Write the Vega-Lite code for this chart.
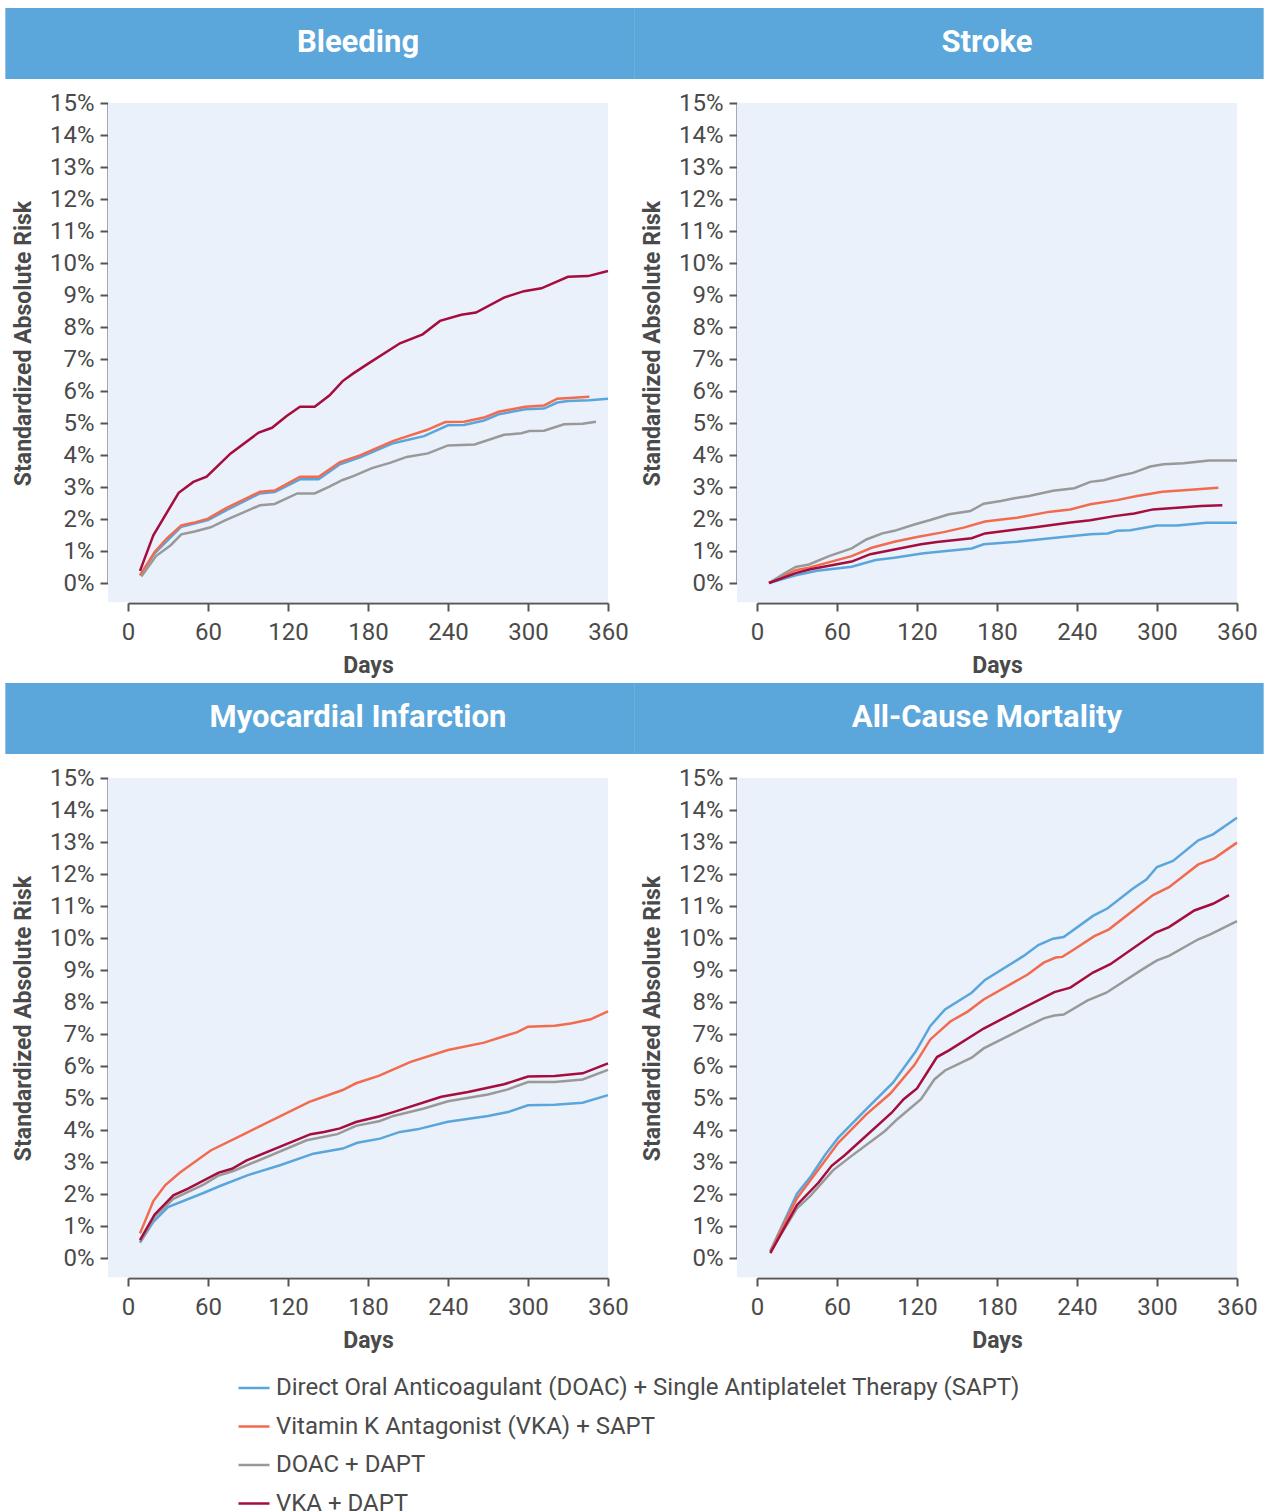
{
"$schema":"https://vega.github.io/schema/vega-lite/v6.json",
"padding":{"left":5,"top":7,"right":5,"bottom":5},
"bounds":"flush",
"config":{"font":"Roboto","view":{"stroke":null},
"axis":{"domainColor":"#555555","domainWidth":2,"tickColor":"#555555","tickWidth":2,"tickSize":8,"labelFont":"Roboto","labelFontSize":24,"labelColor":"#4a4a4a","titleFont":"Roboto","titleFontSize":23,"titleFontWeight":"bold","titleColor":"#4a4a4a","grid":false,"labelOverlap":false},
"axisX":{"offset":20,"labelPadding":9,"titlePadding":10,"labelFlush":false},
"axisY":{"offset":20,"labelPadding":6,"titlePadding":14,"labelFlush":false},
"legend":{"labelFont":"Roboto","labelFontSize":24,"labelColor":"#4a4a4a","labelLimit":0}},
"data":{"values":[
{"panel":"Bleeding","series":"DS","day":9,"risk":0.24},{"panel":"Bleeding","series":"DS","day":20,"risk":0.93},{"panel":"Bleeding","series":"DS","day":40,"risk":1.76},{"panel":"Bleeding","series":"DS","day":60,"risk":1.97},{"panel":"Bleeding","series":"DS","day":75,"risk":2.30},{"panel":"Bleeding","series":"DS","day":99,"risk":2.80},{"panel":"Bleeding","series":"DS","day":110,"risk":2.84},{"panel":"Bleeding","series":"DS","day":129,"risk":3.24},{"panel":"Bleeding","series":"DS","day":143,"risk":3.24},{"panel":"Bleeding","series":"DS","day":159,"risk":3.71},{"panel":"Bleeding","series":"DS","day":174,"risk":3.93},{"panel":"Bleeding","series":"DS","day":199,"risk":4.37},{"panel":"Bleeding","series":"DS","day":222,"risk":4.59},{"panel":"Bleeding","series":"DS","day":240,"risk":4.93},{"panel":"Bleeding","series":"DS","day":252,"risk":4.94},{"panel":"Bleeding","series":"DS","day":267,"risk":5.08},{"panel":"Bleeding","series":"DS","day":278,"risk":5.27},{"panel":"Bleeding","series":"DS","day":298,"risk":5.43},{"panel":"Bleeding","series":"DS","day":312,"risk":5.45},{"panel":"Bleeding","series":"DS","day":322,"risk":5.64},{"panel":"Bleeding","series":"DS","day":330,"risk":5.69},{"panel":"Bleeding","series":"DS","day":346,"risk":5.71},{"panel":"Bleeding","series":"DS","day":360,"risk":5.76},
{"panel":"Bleeding","series":"VS","day":9,"risk":0.24},{"panel":"Bleeding","series":"VS","day":20,"risk":0.97},{"panel":"Bleeding","series":"VS","day":29,"risk":1.39},{"panel":"Bleeding","series":"VS","day":40,"risk":1.80},{"panel":"Bleeding","series":"VS","day":49,"risk":1.88},{"panel":"Bleeding","series":"VS","day":60,"risk":2.01},{"panel":"Bleeding","series":"VS","day":74,"risk":2.35},{"panel":"Bleeding","series":"VS","day":99,"risk":2.85},{"panel":"Bleeding","series":"VS","day":110,"risk":2.89},{"panel":"Bleeding","series":"VS","day":129,"risk":3.32},{"panel":"Bleeding","series":"VS","day":143,"risk":3.32},{"panel":"Bleeding","series":"VS","day":159,"risk":3.78},{"panel":"Bleeding","series":"VS","day":174,"risk":3.99},{"panel":"Bleeding","series":"VS","day":199,"risk":4.44},{"panel":"Bleeding","series":"VS","day":224,"risk":4.78},{"panel":"Bleeding","series":"VS","day":238,"risk":5.03},{"panel":"Bleeding","series":"VS","day":252,"risk":5.04},{"panel":"Bleeding","series":"VS","day":267,"risk":5.17},{"panel":"Bleeding","series":"VS","day":278,"risk":5.35},{"panel":"Bleeding","series":"VS","day":298,"risk":5.51},{"panel":"Bleeding","series":"VS","day":312,"risk":5.55},{"panel":"Bleeding","series":"VS","day":322,"risk":5.76},{"panel":"Bleeding","series":"VS","day":346,"risk":5.82},
{"panel":"Bleeding","series":"DD","day":10,"risk":0.2},{"panel":"Bleeding","series":"DD","day":21,"risk":0.84},{"panel":"Bleeding","series":"DD","day":32,"risk":1.18},{"panel":"Bleeding","series":"DD","day":40,"risk":1.52},{"panel":"Bleeding","series":"DD","day":50,"risk":1.61},{"panel":"Bleeding","series":"DD","day":62,"risk":1.74},{"panel":"Bleeding","series":"DD","day":72,"risk":1.94},{"panel":"Bleeding","series":"DD","day":99,"risk":2.43},{"panel":"Bleeding","series":"DD","day":110,"risk":2.47},{"panel":"Bleeding","series":"DD","day":127,"risk":2.80},{"panel":"Bleeding","series":"DD","day":140,"risk":2.80},{"panel":"Bleeding","series":"DD","day":151,"risk":3.01},{"panel":"Bleeding","series":"DD","day":161,"risk":3.22},{"panel":"Bleeding","series":"DD","day":169,"risk":3.34},{"panel":"Bleeding","series":"DD","day":183,"risk":3.59},{"panel":"Bleeding","series":"DD","day":197,"risk":3.76},{"panel":"Bleeding","series":"DD","day":209,"risk":3.94},{"panel":"Bleeding","series":"DD","day":225,"risk":4.05},{"panel":"Bleeding","series":"DD","day":240,"risk":4.30},{"panel":"Bleeding","series":"DD","day":260,"risk":4.33},{"panel":"Bleeding","series":"DD","day":282,"risk":4.63},{"panel":"Bleeding","series":"DD","day":295,"risk":4.68},{"panel":"Bleeding","series":"DD","day":301,"risk":4.75},{"panel":"Bleeding","series":"DD","day":312,"risk":4.76},{"panel":"Bleeding","series":"DD","day":327,"risk":4.96},{"panel":"Bleeding","series":"DD","day":341,"risk":4.98},{"panel":"Bleeding","series":"DD","day":351,"risk":5.04},
{"panel":"Bleeding","series":"VD","day":9,"risk":0.38},{"panel":"Bleeding","series":"VD","day":19,"risk":1.49},{"panel":"Bleeding","series":"VD","day":38,"risk":2.82},{"panel":"Bleeding","series":"VD","day":49,"risk":3.16},{"panel":"Bleeding","series":"VD","day":59,"risk":3.32},{"panel":"Bleeding","series":"VD","day":77,"risk":4.05},{"panel":"Bleeding","series":"VD","day":98,"risk":4.70},{"panel":"Bleeding","series":"VD","day":108,"risk":4.85},{"panel":"Bleeding","series":"VD","day":119,"risk":5.22},{"panel":"Bleeding","series":"VD","day":129,"risk":5.51},{"panel":"Bleeding","series":"VD","day":140,"risk":5.51},{"panel":"Bleeding","series":"VD","day":151,"risk":5.86},{"panel":"Bleeding","series":"VD","day":161,"risk":6.31},{"panel":"Bleeding","series":"VD","day":169,"risk":6.55},{"panel":"Bleeding","series":"VD","day":181,"risk":6.88},{"panel":"Bleeding","series":"VD","day":204,"risk":7.49},{"panel":"Bleeding","series":"VD","day":221,"risk":7.77},{"panel":"Bleeding","series":"VD","day":234,"risk":8.19},{"panel":"Bleeding","series":"VD","day":250,"risk":8.38},{"panel":"Bleeding","series":"VD","day":261,"risk":8.45},{"panel":"Bleeding","series":"VD","day":282,"risk":8.92},{"panel":"Bleeding","series":"VD","day":297,"risk":9.12},{"panel":"Bleeding","series":"VD","day":310,"risk":9.21},{"panel":"Bleeding","series":"VD","day":330,"risk":9.57},{"panel":"Bleeding","series":"VD","day":345,"risk":9.59},{"panel":"Bleeding","series":"VD","day":360,"risk":9.75},
{"panel":"Stroke","series":"DS","day":9,"risk":0},{"panel":"Stroke","series":"DS","day":29,"risk":0.24},{"panel":"Stroke","series":"DS","day":45,"risk":0.38},{"panel":"Stroke","series":"DS","day":71,"risk":0.51},{"panel":"Stroke","series":"DS","day":89,"risk":0.72},{"panel":"Stroke","series":"DS","day":103,"risk":0.79},{"panel":"Stroke","series":"DS","day":125,"risk":0.93},{"panel":"Stroke","series":"DS","day":161,"risk":1.08},{"panel":"Stroke","series":"DS","day":170,"risk":1.21},{"panel":"Stroke","series":"DS","day":195,"risk":1.29},{"panel":"Stroke","series":"DS","day":220,"risk":1.40},{"panel":"Stroke","series":"DS","day":250,"risk":1.52},{"panel":"Stroke","series":"DS","day":263,"risk":1.55},{"panel":"Stroke","series":"DS","day":270,"risk":1.63},{"panel":"Stroke","series":"DS","day":280,"risk":1.65},{"panel":"Stroke","series":"DS","day":300,"risk":1.80},{"panel":"Stroke","series":"DS","day":315,"risk":1.80},{"panel":"Stroke","series":"DS","day":337,"risk":1.88},{"panel":"Stroke","series":"DS","day":360,"risk":1.88},
{"panel":"Stroke","series":"VS","day":9,"risk":0},{"panel":"Stroke","series":"VS","day":29,"risk":0.40},{"panel":"Stroke","series":"VS","day":39,"risk":0.48},{"panel":"Stroke","series":"VS","day":71,"risk":0.84},{"panel":"Stroke","series":"VS","day":86,"risk":1.10},{"panel":"Stroke","series":"VS","day":103,"risk":1.29},{"panel":"Stroke","series":"VS","day":120,"risk":1.44},{"panel":"Stroke","series":"VS","day":140,"risk":1.59},{"panel":"Stroke","series":"VS","day":155,"risk":1.73},{"panel":"Stroke","series":"VS","day":171,"risk":1.92},{"panel":"Stroke","series":"VS","day":185,"risk":1.99},{"panel":"Stroke","series":"VS","day":195,"risk":2.04},{"panel":"Stroke","series":"VS","day":220,"risk":2.23},{"panel":"Stroke","series":"VS","day":235,"risk":2.30},{"panel":"Stroke","series":"VS","day":250,"risk":2.46},{"panel":"Stroke","series":"VS","day":270,"risk":2.59},{"panel":"Stroke","series":"VS","day":285,"risk":2.72},{"panel":"Stroke","series":"VS","day":304,"risk":2.85},{"panel":"Stroke","series":"VS","day":320,"risk":2.90},{"panel":"Stroke","series":"VS","day":346,"risk":2.98},
{"panel":"Stroke","series":"DD","day":9,"risk":0},{"panel":"Stroke","series":"DD","day":20,"risk":0.29},{"panel":"Stroke","series":"DD","day":29,"risk":0.50},{"panel":"Stroke","series":"DD","day":39,"risk":0.58},{"panel":"Stroke","series":"DD","day":54,"risk":0.84},{"panel":"Stroke","series":"DD","day":71,"risk":1.08},{"panel":"Stroke","series":"DD","day":82,"risk":1.36},{"panel":"Stroke","series":"DD","day":94,"risk":1.55},{"panel":"Stroke","series":"DD","day":103,"risk":1.63},{"panel":"Stroke","series":"DD","day":118,"risk":1.83},{"panel":"Stroke","series":"DD","day":130,"risk":1.97},{"panel":"Stroke","series":"DD","day":144,"risk":2.15},{"panel":"Stroke","series":"DD","day":160,"risk":2.25},{"panel":"Stroke","series":"DD","day":170,"risk":2.48},{"panel":"Stroke","series":"DD","day":183,"risk":2.56},{"panel":"Stroke","series":"DD","day":193,"risk":2.65},{"panel":"Stroke","series":"DD","day":204,"risk":2.72},{"panel":"Stroke","series":"DD","day":222,"risk":2.88},{"panel":"Stroke","series":"DD","day":238,"risk":2.96},{"panel":"Stroke","series":"DD","day":250,"risk":3.16},{"panel":"Stroke","series":"DD","day":260,"risk":3.21},{"panel":"Stroke","series":"DD","day":272,"risk":3.35},{"panel":"Stroke","series":"DD","day":282,"risk":3.44},{"panel":"Stroke","series":"DD","day":295,"risk":3.64},{"panel":"Stroke","series":"DD","day":305,"risk":3.71},{"panel":"Stroke","series":"DD","day":320,"risk":3.74},{"panel":"Stroke","series":"DD","day":339,"risk":3.83},{"panel":"Stroke","series":"DD","day":360,"risk":3.83},
{"panel":"Stroke","series":"VD","day":9,"risk":0},{"panel":"Stroke","series":"VD","day":29,"risk":0.31},{"panel":"Stroke","series":"VD","day":40,"risk":0.43},{"panel":"Stroke","series":"VD","day":57,"risk":0.56},{"panel":"Stroke","series":"VD","day":71,"risk":0.67},{"panel":"Stroke","series":"VD","day":85,"risk":0.90},{"panel":"Stroke","series":"VD","day":103,"risk":1.05},{"panel":"Stroke","series":"VD","day":123,"risk":1.21},{"panel":"Stroke","series":"VD","day":135,"risk":1.28},{"panel":"Stroke","series":"VD","day":161,"risk":1.40},{"panel":"Stroke","series":"VD","day":171,"risk":1.55},{"panel":"Stroke","series":"VD","day":190,"risk":1.65},{"panel":"Stroke","series":"VD","day":210,"risk":1.75},{"panel":"Stroke","series":"VD","day":235,"risk":1.89},{"panel":"Stroke","series":"VD","day":250,"risk":1.96},{"panel":"Stroke","series":"VD","day":268,"risk":2.09},{"panel":"Stroke","series":"VD","day":283,"risk":2.17},{"panel":"Stroke","series":"VD","day":297,"risk":2.30},{"panel":"Stroke","series":"VD","day":315,"risk":2.35},{"panel":"Stroke","series":"VD","day":333,"risk":2.41},{"panel":"Stroke","series":"VD","day":349,"risk":2.43},
{"panel":"Myocardial Infarction","series":"DS","day":9,"risk":0.48},{"panel":"Myocardial Infarction","series":"DS","day":19,"risk":1.13},{"panel":"Myocardial Infarction","series":"DS","day":30,"risk":1.59},{"panel":"Myocardial Infarction","series":"DS","day":57,"risk":2.04},{"panel":"Myocardial Infarction","series":"DS","day":69,"risk":2.25},{"panel":"Myocardial Infarction","series":"DS","day":90,"risk":2.59},{"panel":"Myocardial Infarction","series":"DS","day":114,"risk":2.90},{"panel":"Myocardial Infarction","series":"DS","day":139,"risk":3.26},{"panel":"Myocardial Infarction","series":"DS","day":161,"risk":3.42},{"panel":"Myocardial Infarction","series":"DS","day":172,"risk":3.60},{"panel":"Myocardial Infarction","series":"DS","day":189,"risk":3.73},{"panel":"Myocardial Infarction","series":"DS","day":204,"risk":3.94},{"panel":"Myocardial Infarction","series":"DS","day":217,"risk":4.02},{"panel":"Myocardial Infarction","series":"DS","day":240,"risk":4.26},{"panel":"Myocardial Infarction","series":"DS","day":270,"risk":4.44},{"panel":"Myocardial Infarction","series":"DS","day":285,"risk":4.56},{"panel":"Myocardial Infarction","series":"DS","day":300,"risk":4.77},{"panel":"Myocardial Infarction","series":"DS","day":320,"risk":4.79},{"panel":"Myocardial Infarction","series":"DS","day":341,"risk":4.85},{"panel":"Myocardial Infarction","series":"DS","day":360,"risk":5.09},
{"panel":"Myocardial Infarction","series":"VS","day":9,"risk":0.77},{"panel":"Myocardial Infarction","series":"VS","day":19,"risk":1.78},{"panel":"Myocardial Infarction","series":"VS","day":28,"risk":2.28},{"panel":"Myocardial Infarction","series":"VS","day":39,"risk":2.67},{"panel":"Myocardial Infarction","series":"VS","day":62,"risk":3.36},{"panel":"Myocardial Infarction","series":"VS","day":87,"risk":3.87},{"panel":"Myocardial Infarction","series":"VS","day":136,"risk":4.88},{"panel":"Myocardial Infarction","series":"VS","day":161,"risk":5.25},{"panel":"Myocardial Infarction","series":"VS","day":171,"risk":5.46},{"panel":"Myocardial Infarction","series":"VS","day":188,"risk":5.69},{"panel":"Myocardial Infarction","series":"VS","day":212,"risk":6.13},{"panel":"Myocardial Infarction","series":"VS","day":240,"risk":6.50},{"panel":"Myocardial Infarction","series":"VS","day":267,"risk":6.73},{"panel":"Myocardial Infarction","series":"VS","day":292,"risk":7.06},{"panel":"Myocardial Infarction","series":"VS","day":300,"risk":7.23},{"panel":"Myocardial Infarction","series":"VS","day":320,"risk":7.26},{"panel":"Myocardial Infarction","series":"VS","day":332,"risk":7.33},{"panel":"Myocardial Infarction","series":"VS","day":347,"risk":7.46},{"panel":"Myocardial Infarction","series":"VS","day":360,"risk":7.71},
{"panel":"Myocardial Infarction","series":"DD","day":9,"risk":0.49},{"panel":"Myocardial Infarction","series":"DD","day":20,"risk":1.29},{"panel":"Myocardial Infarction","series":"DD","day":34,"risk":1.85},{"panel":"Myocardial Infarction","series":"DD","day":57,"risk":2.30},{"panel":"Myocardial Infarction","series":"DD","day":68,"risk":2.58},{"panel":"Myocardial Infarction","series":"DD","day":79,"risk":2.72},{"panel":"Myocardial Infarction","series":"DD","day":134,"risk":3.68},{"panel":"Myocardial Infarction","series":"DD","day":157,"risk":3.87},{"panel":"Myocardial Infarction","series":"DD","day":171,"risk":4.13},{"panel":"Myocardial Infarction","series":"DD","day":189,"risk":4.28},{"panel":"Myocardial Infarction","series":"DD","day":199,"risk":4.44},{"panel":"Myocardial Infarction","series":"DD","day":222,"risk":4.67},{"panel":"Myocardial Infarction","series":"DD","day":240,"risk":4.90},{"panel":"Myocardial Infarction","series":"DD","day":270,"risk":5.11},{"panel":"Myocardial Infarction","series":"DD","day":285,"risk":5.27},{"panel":"Myocardial Infarction","series":"DD","day":300,"risk":5.50},{"panel":"Myocardial Infarction","series":"DD","day":320,"risk":5.50},{"panel":"Myocardial Infarction","series":"DD","day":341,"risk":5.58},{"panel":"Myocardial Infarction","series":"DD","day":360,"risk":5.88},
{"panel":"Myocardial Infarction","series":"VD","day":9,"risk":0.56},{"panel":"Myocardial Infarction","series":"VD","day":20,"risk":1.36},{"panel":"Myocardial Infarction","series":"VD","day":34,"risk":1.96},{"panel":"Myocardial Infarction","series":"VD","day":45,"risk":2.17},{"panel":"Myocardial Infarction","series":"VD","day":68,"risk":2.67},{"panel":"Myocardial Infarction","series":"VD","day":78,"risk":2.79},{"panel":"Myocardial Infarction","series":"VD","day":89,"risk":3.05},{"panel":"Myocardial Infarction","series":"VD","day":137,"risk":3.87},{"panel":"Myocardial Infarction","series":"VD","day":147,"risk":3.94},{"panel":"Myocardial Infarction","series":"VD","day":159,"risk":4.05},{"panel":"Myocardial Infarction","series":"VD","day":171,"risk":4.25},{"panel":"Myocardial Infarction","series":"VD","day":188,"risk":4.42},{"panel":"Myocardial Infarction","series":"VD","day":199,"risk":4.56},{"panel":"Myocardial Infarction","series":"VD","day":235,"risk":5.04},{"panel":"Myocardial Infarction","series":"VD","day":255,"risk":5.19},{"panel":"Myocardial Infarction","series":"VD","day":282,"risk":5.43},{"panel":"Myocardial Infarction","series":"VD","day":300,"risk":5.67},{"panel":"Myocardial Infarction","series":"VD","day":320,"risk":5.69},{"panel":"Myocardial Infarction","series":"VD","day":341,"risk":5.77},{"panel":"Myocardial Infarction","series":"VD","day":360,"risk":6.08},
{"panel":"All-Cause Mortality","series":"DS","day":10,"risk":0.22},{"panel":"All-Cause Mortality","series":"DS","day":30,"risk":2.01},{"panel":"All-Cause Mortality","series":"DS","day":40,"risk":2.53},{"panel":"All-Cause Mortality","series":"DS","day":51,"risk":3.22},{"panel":"All-Cause Mortality","series":"DS","day":61,"risk":3.76},{"panel":"All-Cause Mortality","series":"DS","day":82,"risk":4.65},{"panel":"All-Cause Mortality","series":"DS","day":102,"risk":5.48},{"panel":"All-Cause Mortality","series":"DS","day":119,"risk":6.45},{"panel":"All-Cause Mortality","series":"DS","day":130,"risk":7.25},{"panel":"All-Cause Mortality","series":"DS","day":141,"risk":7.77},{"panel":"All-Cause Mortality","series":"DS","day":161,"risk":8.29},{"panel":"All-Cause Mortality","series":"DS","day":171,"risk":8.69},{"panel":"All-Cause Mortality","series":"DS","day":200,"risk":9.44},{"panel":"All-Cause Mortality","series":"DS","day":211,"risk":9.78},{"panel":"All-Cause Mortality","series":"DS","day":222,"risk":9.98},{"panel":"All-Cause Mortality","series":"DS","day":230,"risk":10.03},{"panel":"All-Cause Mortality","series":"DS","day":252,"risk":10.69},{"panel":"All-Cause Mortality","series":"DS","day":263,"risk":10.93},{"panel":"All-Cause Mortality","series":"DS","day":282,"risk":11.55},{"panel":"All-Cause Mortality","series":"DS","day":292,"risk":11.83},{"panel":"All-Cause Mortality","series":"DS","day":300,"risk":12.22},{"panel":"All-Cause Mortality","series":"DS","day":312,"risk":12.41},{"panel":"All-Cause Mortality","series":"DS","day":331,"risk":13.05},{"panel":"All-Cause Mortality","series":"DS","day":342,"risk":13.24},{"panel":"All-Cause Mortality","series":"DS","day":360,"risk":13.76},
{"panel":"All-Cause Mortality","series":"VS","day":10,"risk":0.2},{"panel":"All-Cause Mortality","series":"VS","day":30,"risk":1.87},{"panel":"All-Cause Mortality","series":"VS","day":49,"risk":2.93},{"panel":"All-Cause Mortality","series":"VS","day":61,"risk":3.60},{"panel":"All-Cause Mortality","series":"VS","day":82,"risk":4.49},{"panel":"All-Cause Mortality","series":"VS","day":100,"risk":5.14},{"panel":"All-Cause Mortality","series":"VS","day":118,"risk":6.03},{"panel":"All-Cause Mortality","series":"VS","day":130,"risk":6.83},{"panel":"All-Cause Mortality","series":"VS","day":145,"risk":7.39},{"panel":"All-Cause Mortality","series":"VS","day":158,"risk":7.70},{"panel":"All-Cause Mortality","series":"VS","day":170,"risk":8.08},{"panel":"All-Cause Mortality","series":"VS","day":203,"risk":8.86},{"panel":"All-Cause Mortality","series":"VS","day":215,"risk":9.23},{"panel":"All-Cause Mortality","series":"VS","day":224,"risk":9.39},{"panel":"All-Cause Mortality","series":"VS","day":229,"risk":9.41},{"panel":"All-Cause Mortality","series":"VS","day":238,"risk":9.65},{"panel":"All-Cause Mortality","series":"VS","day":253,"risk":10.06},{"panel":"All-Cause Mortality","series":"VS","day":264,"risk":10.27},{"panel":"All-Cause Mortality","series":"VS","day":297,"risk":11.34},{"panel":"All-Cause Mortality","series":"VS","day":309,"risk":11.59},{"panel":"All-Cause Mortality","series":"VS","day":331,"risk":12.30},{"panel":"All-Cause Mortality","series":"VS","day":343,"risk":12.49},{"panel":"All-Cause Mortality","series":"VS","day":360,"risk":12.98},
{"panel":"All-Cause Mortality","series":"DD","day":10,"risk":0.2},{"panel":"All-Cause Mortality","series":"DD","day":30,"risk":1.55},{"panel":"All-Cause Mortality","series":"DD","day":40,"risk":1.94},{"panel":"All-Cause Mortality","series":"DD","day":57,"risk":2.74},{"panel":"All-Cause Mortality","series":"DD","day":70,"risk":3.16},{"panel":"All-Cause Mortality","series":"DD","day":96,"risk":3.97},{"panel":"All-Cause Mortality","series":"DD","day":105,"risk":4.33},{"panel":"All-Cause Mortality","series":"DD","day":123,"risk":4.96},{"panel":"All-Cause Mortality","series":"DD","day":133,"risk":5.58},{"panel":"All-Cause Mortality","series":"DD","day":141,"risk":5.86},{"panel":"All-Cause Mortality","series":"DD","day":161,"risk":6.26},{"panel":"All-Cause Mortality","series":"DD","day":170,"risk":6.55},{"panel":"All-Cause Mortality","series":"DD","day":200,"risk":7.18},{"panel":"All-Cause Mortality","series":"DD","day":215,"risk":7.49},{"panel":"All-Cause Mortality","series":"DD","day":223,"risk":7.58},{"panel":"All-Cause Mortality","series":"DD","day":230,"risk":7.61},{"panel":"All-Cause Mortality","series":"DD","day":248,"risk":8.05},{"panel":"All-Cause Mortality","series":"DD","day":262,"risk":8.29},{"panel":"All-Cause Mortality","series":"DD","day":289,"risk":9.02},{"panel":"All-Cause Mortality","series":"DD","day":300,"risk":9.30},{"panel":"All-Cause Mortality","series":"DD","day":309,"risk":9.44},{"panel":"All-Cause Mortality","series":"DD","day":331,"risk":9.96},{"panel":"All-Cause Mortality","series":"DD","day":340,"risk":10.11},{"panel":"All-Cause Mortality","series":"DD","day":360,"risk":10.53},
{"panel":"All-Cause Mortality","series":"VD","day":10,"risk":0.15},{"panel":"All-Cause Mortality","series":"VD","day":30,"risk":1.66},{"panel":"All-Cause Mortality","series":"VD","day":46,"risk":2.35},{"panel":"All-Cause Mortality","series":"VD","day":56,"risk":2.88},{"panel":"All-Cause Mortality","series":"VD","day":66,"risk":3.22},{"panel":"All-Cause Mortality","series":"VD","day":101,"risk":4.54},{"panel":"All-Cause Mortality","series":"VD","day":110,"risk":4.96},{"panel":"All-Cause Mortality","series":"VD","day":120,"risk":5.30},{"panel":"All-Cause Mortality","series":"VD","day":135,"risk":6.28},{"panel":"All-Cause Mortality","series":"VD","day":144,"risk":6.49},{"panel":"All-Cause Mortality","series":"VD","day":170,"risk":7.17},{"panel":"All-Cause Mortality","series":"VD","day":193,"risk":7.67},{"panel":"All-Cause Mortality","series":"VD","day":223,"risk":8.31},{"panel":"All-Cause Mortality","series":"VD","day":235,"risk":8.45},{"panel":"All-Cause Mortality","series":"VD","day":252,"risk":8.92},{"panel":"All-Cause Mortality","series":"VD","day":265,"risk":9.18},{"panel":"All-Cause Mortality","series":"VD","day":299,"risk":10.17},{"panel":"All-Cause Mortality","series":"VD","day":309,"risk":10.34},{"panel":"All-Cause Mortality","series":"VD","day":328,"risk":10.86},{"panel":"All-Cause Mortality","series":"VD","day":342,"risk":11.07},{"panel":"All-Cause Mortality","series":"VD","day":354,"risk":11.34}
]},
"columns":2,
"spacing":{"row":195,"column":149},
"concat":[
{"transform":[{"filter":"datum.panel == 'Bleeding'"}],"width":480,"height":480,"layer":[
{"transform":[{"aggregate":[{"op":"count","as":"n"}],"groupby":["panel"]}],"mark":{"type":"rect","fill":"#eaf1fa","clip":false},"encoding":{"x":{"datum":-15,"type":"quantitative","scale":{"domain":[0,360],"nice":false,"zero":false},"axis":{"values":[0,60,120,180,240,300,360],"title":"Days"}},"x2":{"datum":360},"y":{"datum":-0.6,"type":"quantitative","scale":{"domain":[0,15],"nice":false},"axis":{"values":[0,1,2,3,4,5,6,7,8,9,10,11,12,13,14,15],"labelExpr":"datum.value + '%'","title":"Standardized Absolute Risk"}},"y2":{"datum":15}}},
{"transform":[{"aggregate":[{"op":"count","as":"n"}],"groupby":["panel"]}],"mark":{"type":"rect","fill":"#5ba6da","clip":false},"encoding":{"x":{"datum":-92,"type":"quantitative","axis":{"values":[0,60,120,180,240,300,360],"title":"Days"}},"x2":{"datum":380},"y":{"datum":15.75,"type":"quantitative","axis":{"values":[0,1,2,3,4,5,6,7,8,9,10,11,12,13,14,15],"labelExpr":"datum.value + '%'","title":"Standardized Absolute Risk"}},"y2":{"datum":17.97}}},
{"transform":[{"aggregate":[{"op":"count","as":"n"}],"groupby":["panel"]}],"mark":{"type":"text","color":"#ffffff","fontSize":31,"fontWeight":"bold","font":"Roboto","align":"center","baseline":"middle","clip":false},"encoding":{"x":{"datum":172.5,"type":"quantitative","axis":{"values":[0,60,120,180,240,300,360],"title":"Days"}},"y":{"datum":16.88,"type":"quantitative","axis":{"values":[0,1,2,3,4,5,6,7,8,9,10,11,12,13,14,15],"labelExpr":"datum.value + '%'","title":"Standardized Absolute Risk"}},"text":{"field":"panel"}}},
{"mark":{"type":"line","strokeWidth":2.5},"encoding":{"x":{"field":"day","type":"quantitative","scale":{"domain":[0,360],"nice":false,"zero":false},"axis":{"values":[0,60,120,180,240,300,360],"title":"Days"}},"y":{"field":"risk","type":"quantitative","scale":{"domain":[0,15],"nice":false},"axis":{"values":[0,1,2,3,4,5,6,7,8,9,10,11,12,13,14,15],"labelExpr":"datum.value + '%'","title":"Standardized Absolute Risk"}},"color":{"field":"series","type":"nominal","scale":{"domain":["DS","VS","DD","VD"],"range":["#5aa6dc","#f26b4f","#999999","#a50d3e"]},"legend":{"orient":"none","legendX":109,"legendY":1268,"direction":"vertical","title":null,"symbolType":"stroke","symbolSize":961,"symbolStrokeWidth":2.5,"labelOffset":5,"rowPadding":9.5,"labelLimit":0,"labelExpr":"datum.label == 'DS' ? 'Direct Oral Anticoagulant (DOAC) + Single Antiplatelet Therapy (SAPT)' : datum.label == 'VS' ? 'Vitamin K Antagonist (VKA) + SAPT' : datum.label == 'DD' ? 'DOAC + DAPT' : 'VKA + DAPT'"}},"order":{"field":"day","type":"quantitative"}}}
]},
{"transform":[{"filter":"datum.panel == 'Stroke'"}],"width":480,"height":480,"layer":[
{"transform":[{"aggregate":[{"op":"count","as":"n"}],"groupby":["panel"]}],"mark":{"type":"rect","fill":"#eaf1fa","clip":false},"encoding":{"x":{"datum":-15,"type":"quantitative","scale":{"domain":[0,360],"nice":false,"zero":false},"axis":{"values":[0,60,120,180,240,300,360],"title":"Days"}},"x2":{"datum":360},"y":{"datum":-0.6,"type":"quantitative","scale":{"domain":[0,15],"nice":false},"axis":{"values":[0,1,2,3,4,5,6,7,8,9,10,11,12,13,14,15],"labelExpr":"datum.value + '%'","title":"Standardized Absolute Risk"}},"y2":{"datum":15}}},
{"transform":[{"aggregate":[{"op":"count","as":"n"}],"groupby":["panel"]}],"mark":{"type":"rect","fill":"#5ba6da","clip":false},"encoding":{"x":{"datum":-92,"type":"quantitative","axis":{"values":[0,60,120,180,240,300,360],"title":"Days"}},"x2":{"datum":380},"y":{"datum":15.75,"type":"quantitative","axis":{"values":[0,1,2,3,4,5,6,7,8,9,10,11,12,13,14,15],"labelExpr":"datum.value + '%'","title":"Standardized Absolute Risk"}},"y2":{"datum":17.97}}},
{"transform":[{"aggregate":[{"op":"count","as":"n"}],"groupby":["panel"]}],"mark":{"type":"text","color":"#ffffff","fontSize":31,"fontWeight":"bold","font":"Roboto","align":"center","baseline":"middle","clip":false},"encoding":{"x":{"datum":172.5,"type":"quantitative","axis":{"values":[0,60,120,180,240,300,360],"title":"Days"}},"y":{"datum":16.88,"type":"quantitative","axis":{"values":[0,1,2,3,4,5,6,7,8,9,10,11,12,13,14,15],"labelExpr":"datum.value + '%'","title":"Standardized Absolute Risk"}},"text":{"field":"panel"}}},
{"mark":{"type":"line","strokeWidth":2.5},"encoding":{"x":{"field":"day","type":"quantitative","scale":{"domain":[0,360],"nice":false,"zero":false},"axis":{"values":[0,60,120,180,240,300,360],"title":"Days"}},"y":{"field":"risk","type":"quantitative","scale":{"domain":[0,15],"nice":false},"axis":{"values":[0,1,2,3,4,5,6,7,8,9,10,11,12,13,14,15],"labelExpr":"datum.value + '%'","title":"Standardized Absolute Risk"}},"color":{"field":"series","type":"nominal","scale":{"domain":["DS","VS","DD","VD"],"range":["#5aa6dc","#f26b4f","#999999","#a50d3e"]},"legend":{"orient":"none","legendX":109,"legendY":1268,"direction":"vertical","title":null,"symbolType":"stroke","symbolSize":961,"symbolStrokeWidth":2.5,"labelOffset":5,"rowPadding":9.5,"labelLimit":0,"labelExpr":"datum.label == 'DS' ? 'Direct Oral Anticoagulant (DOAC) + Single Antiplatelet Therapy (SAPT)' : datum.label == 'VS' ? 'Vitamin K Antagonist (VKA) + SAPT' : datum.label == 'DD' ? 'DOAC + DAPT' : 'VKA + DAPT'"}},"order":{"field":"day","type":"quantitative"}}}
]},
{"transform":[{"filter":"datum.panel == 'Myocardial Infarction'"}],"width":480,"height":480,"layer":[
{"transform":[{"aggregate":[{"op":"count","as":"n"}],"groupby":["panel"]}],"mark":{"type":"rect","fill":"#eaf1fa","clip":false},"encoding":{"x":{"datum":-15,"type":"quantitative","scale":{"domain":[0,360],"nice":false,"zero":false},"axis":{"values":[0,60,120,180,240,300,360],"title":"Days"}},"x2":{"datum":360},"y":{"datum":-0.6,"type":"quantitative","scale":{"domain":[0,15],"nice":false},"axis":{"values":[0,1,2,3,4,5,6,7,8,9,10,11,12,13,14,15],"labelExpr":"datum.value + '%'","title":"Standardized Absolute Risk"}},"y2":{"datum":15}}},
{"transform":[{"aggregate":[{"op":"count","as":"n"}],"groupby":["panel"]}],"mark":{"type":"rect","fill":"#5ba6da","clip":false},"encoding":{"x":{"datum":-92,"type":"quantitative","axis":{"values":[0,60,120,180,240,300,360],"title":"Days"}},"x2":{"datum":380},"y":{"datum":15.75,"type":"quantitative","axis":{"values":[0,1,2,3,4,5,6,7,8,9,10,11,12,13,14,15],"labelExpr":"datum.value + '%'","title":"Standardized Absolute Risk"}},"y2":{"datum":17.97}}},
{"transform":[{"aggregate":[{"op":"count","as":"n"}],"groupby":["panel"]}],"mark":{"type":"text","color":"#ffffff","fontSize":31,"fontWeight":"bold","font":"Roboto","align":"center","baseline":"middle","clip":false},"encoding":{"x":{"datum":172.5,"type":"quantitative","axis":{"values":[0,60,120,180,240,300,360],"title":"Days"}},"y":{"datum":16.88,"type":"quantitative","axis":{"values":[0,1,2,3,4,5,6,7,8,9,10,11,12,13,14,15],"labelExpr":"datum.value + '%'","title":"Standardized Absolute Risk"}},"text":{"field":"panel"}}},
{"mark":{"type":"line","strokeWidth":2.5},"encoding":{"x":{"field":"day","type":"quantitative","scale":{"domain":[0,360],"nice":false,"zero":false},"axis":{"values":[0,60,120,180,240,300,360],"title":"Days"}},"y":{"field":"risk","type":"quantitative","scale":{"domain":[0,15],"nice":false},"axis":{"values":[0,1,2,3,4,5,6,7,8,9,10,11,12,13,14,15],"labelExpr":"datum.value + '%'","title":"Standardized Absolute Risk"}},"color":{"field":"series","type":"nominal","scale":{"domain":["DS","VS","DD","VD"],"range":["#5aa6dc","#f26b4f","#999999","#a50d3e"]},"legend":{"orient":"none","legendX":109,"legendY":1268,"direction":"vertical","title":null,"symbolType":"stroke","symbolSize":961,"symbolStrokeWidth":2.5,"labelOffset":5,"rowPadding":9.5,"labelLimit":0,"labelExpr":"datum.label == 'DS' ? 'Direct Oral Anticoagulant (DOAC) + Single Antiplatelet Therapy (SAPT)' : datum.label == 'VS' ? 'Vitamin K Antagonist (VKA) + SAPT' : datum.label == 'DD' ? 'DOAC + DAPT' : 'VKA + DAPT'"}},"order":{"field":"day","type":"quantitative"}}}
]},
{"transform":[{"filter":"datum.panel == 'All-Cause Mortality'"}],"width":480,"height":480,"layer":[
{"transform":[{"aggregate":[{"op":"count","as":"n"}],"groupby":["panel"]}],"mark":{"type":"rect","fill":"#eaf1fa","clip":false},"encoding":{"x":{"datum":-15,"type":"quantitative","scale":{"domain":[0,360],"nice":false,"zero":false},"axis":{"values":[0,60,120,180,240,300,360],"title":"Days"}},"x2":{"datum":360},"y":{"datum":-0.6,"type":"quantitative","scale":{"domain":[0,15],"nice":false},"axis":{"values":[0,1,2,3,4,5,6,7,8,9,10,11,12,13,14,15],"labelExpr":"datum.value + '%'","title":"Standardized Absolute Risk"}},"y2":{"datum":15}}},
{"transform":[{"aggregate":[{"op":"count","as":"n"}],"groupby":["panel"]}],"mark":{"type":"rect","fill":"#5ba6da","clip":false},"encoding":{"x":{"datum":-92,"type":"quantitative","axis":{"values":[0,60,120,180,240,300,360],"title":"Days"}},"x2":{"datum":380},"y":{"datum":15.75,"type":"quantitative","axis":{"values":[0,1,2,3,4,5,6,7,8,9,10,11,12,13,14,15],"labelExpr":"datum.value + '%'","title":"Standardized Absolute Risk"}},"y2":{"datum":17.97}}},
{"transform":[{"aggregate":[{"op":"count","as":"n"}],"groupby":["panel"]}],"mark":{"type":"text","color":"#ffffff","fontSize":31,"fontWeight":"bold","font":"Roboto","align":"center","baseline":"middle","clip":false},"encoding":{"x":{"datum":172.5,"type":"quantitative","axis":{"values":[0,60,120,180,240,300,360],"title":"Days"}},"y":{"datum":16.88,"type":"quantitative","axis":{"values":[0,1,2,3,4,5,6,7,8,9,10,11,12,13,14,15],"labelExpr":"datum.value + '%'","title":"Standardized Absolute Risk"}},"text":{"field":"panel"}}},
{"mark":{"type":"line","strokeWidth":2.5},"encoding":{"x":{"field":"day","type":"quantitative","scale":{"domain":[0,360],"nice":false,"zero":false},"axis":{"values":[0,60,120,180,240,300,360],"title":"Days"}},"y":{"field":"risk","type":"quantitative","scale":{"domain":[0,15],"nice":false},"axis":{"values":[0,1,2,3,4,5,6,7,8,9,10,11,12,13,14,15],"labelExpr":"datum.value + '%'","title":"Standardized Absolute Risk"}},"color":{"field":"series","type":"nominal","scale":{"domain":["DS","VS","DD","VD"],"range":["#5aa6dc","#f26b4f","#999999","#a50d3e"]},"legend":{"orient":"none","legendX":109,"legendY":1268,"direction":"vertical","title":null,"symbolType":"stroke","symbolSize":961,"symbolStrokeWidth":2.5,"labelOffset":5,"rowPadding":9.5,"labelLimit":0,"labelExpr":"datum.label == 'DS' ? 'Direct Oral Anticoagulant (DOAC) + Single Antiplatelet Therapy (SAPT)' : datum.label == 'VS' ? 'Vitamin K Antagonist (VKA) + SAPT' : datum.label == 'DD' ? 'DOAC + DAPT' : 'VKA + DAPT'"}},"order":{"field":"day","type":"quantitative"}}}
]}
]
}
